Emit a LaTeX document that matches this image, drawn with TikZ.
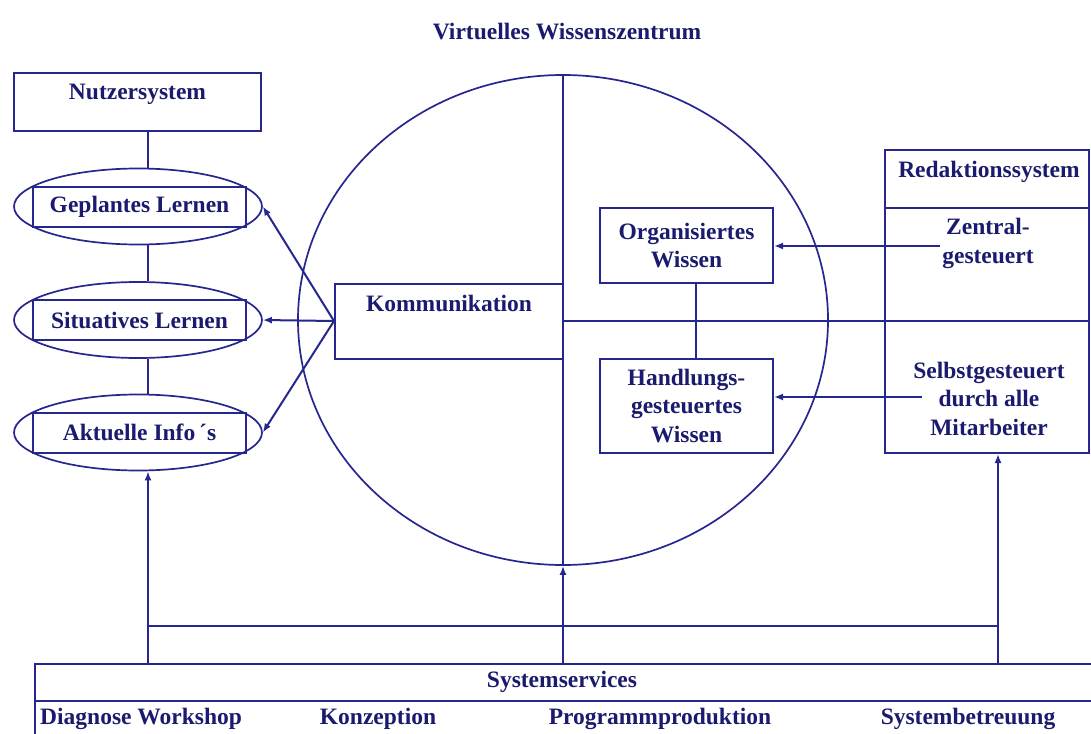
\documentclass[tikz,border=0pt]{standalone}
\usepackage{fontspec}
\setmainfont{Liberation Serif}
\usetikzlibrary{shapes.geometric,arrows.meta}
\definecolor{ink}{RGB}{38,38,145}
\definecolor{txtink}{RGB}{26,26,110}
\tikzset{
  every node/.style={font=\fontsize{23.5}{28.5}\selectfont\bfseries, text=txtink},
  wire/.style={draw=ink, line width=2pt},
  arr/.style={wire, -{Latex[length=9pt,width=7pt]}},
  boxst/.style={draw=ink, line width=2pt, rectangle, inner sep=0pt},
  ellst/.style={draw=ink, line width=1.7pt, ellipse, inner sep=0pt,
                minimum width=248pt, minimum height=76pt},
  lernbox/.style={draw=ink, line width=2pt, rectangle, inner sep=0pt,
                  minimum width=213pt, minimum height=40pt},
  txt/.style={align=center, inner sep=0pt},
}
\begin{document}
\begin{tikzpicture}[x=1pt,y=-1pt]
\clip (0,0) rectangle (1091,733);
\fill[white] (0,0) rectangle (1091,733);

% helper columns and rows
\coordinate (lineL) at (148,0);
\coordinate (conn) at (696,0);
\coordinate (rlin) at (998,0);
\coordinate (bar) at (0,626);
\coordinate (rdiv) at (0,208);
\coordinate (sdiv) at (0,701);

% title
\node[txt] (title) at (567,32) {Virtuelles Wissenszentrum};

% user system with its three learning forms
\node[boxst, minimum width=247pt, minimum height=58pt] (nutzer) at (137.5,102) {};
\node[txt] (nutzert) at (137.5,94) {Nutzersystem};

\node[ellst] (gl) at (138,206.5) {};
\node[lernbox] (glb) at (139.5,206.5) {Geplantes Lernen};
\node[ellst] (sl) at (138,320) {};
\node[lernbox] (slb) at (139.5,320) {Situatives Lernen};
\node[ellst] (ai) at (138,432.5) {};
\node[lernbox] (aib) at (139.5,432.5) {Aktuelle Info\,\textasciiacute s};

\draw[wire] (nutzer.south -| lineL) -- (gl.north -| lineL);
\draw[wire] (gl.south -| lineL) -- (sl.north -| lineL);
\draw[wire] (sl.south -| lineL) -- (ai.north -| lineL);

% knowledge centre
\node[draw=ink, line width=1.7pt, ellipse, inner sep=0pt,
      minimum width=530pt, minimum height=490pt] (wz) at (563,320) {};
\draw[wire] (wz.north) -- (wz.south);

\node[boxst, minimum width=228pt, minimum height=75pt] (komm) at (449,321) {};
\node[txt] (kommt) at (449,303) {Kommunikation};

\draw[arr] (komm.west) -- (gl.east);
\draw[arr] (komm.west) -- (sl.east);
\draw[arr] (komm.west) -- (ai.east);

\node[boxst, txt, minimum width=173pt, minimum height=75pt] (org) at (686.5,245.5)
  {Organisiertes\\Wissen};
\node[boxst, txt, minimum width=173pt, minimum height=94pt] (hand) at (686.5,406)
  {Handlungs-\\gesteuertes\\Wissen};
\draw[wire] (org.south -| conn) -- (hand.north -| conn);

% editorial system
\node[boxst, minimum width=204pt, minimum height=303pt] (redak) at (987,301.5) {};
\draw[wire] (redak.west |- rdiv) -- (redak.east |- rdiv);
\draw[wire] (komm.east) -- (redak.east |- komm.east);
\node[txt] (redakt) at (989,172) {Redaktionssystem};
\node[txt] (zentral) at (988,243.5) {Zentral-\\gesteuert};
\node[txt] (selbst) at (989,398.5) {Selbstgesteuert\\durch alle\\Mitarbeiter};

\coordinate (zstart) at (940,246);
\coordinate (sstart) at (922,397);
\draw[arr] (zstart) -- (org.east |- zstart);
\draw[arr] (sstart) -- (hand.east |- sstart);

% system services
\node[boxst, anchor=north west, minimum width=1070pt, minimum height=90pt] (sys) at (34,663) {};
\draw[wire] (sys.west |- sdiv) -- (sys.east |- sdiv);
\node[txt] (syst) at (562,682) {Systemservices};
\node[txt, anchor=west] (diag) at (40,719) {Diagnose Workshop};
\node[txt] (konz) at (378,719) {Konzeption};
\node[txt] (prog) at (660,719) {Programmproduktion};
\node[txt] (sbet) at (968,719) {Systembetreuung};

\draw[wire, line width=2.4pt] (lineL |- bar) -- (rlin |- bar);
\draw[arr] (sys.north -| lineL) -- (ai.south -| lineL);
\draw[arr] (sys.north -| wz.south) -- (wz.south);
\draw[arr] (sys.north -| rlin) -- (redak.south -| rlin);
\end{tikzpicture}
\end{document}
